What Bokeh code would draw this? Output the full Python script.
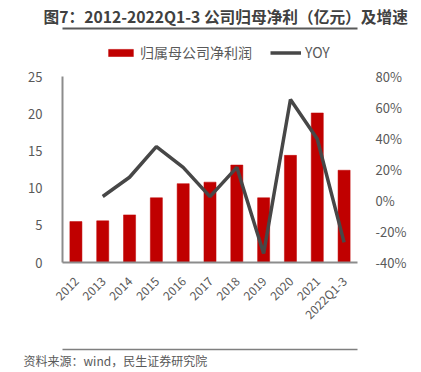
import math
from bokeh.plotting import figure
from bokeh.models import (Range1d, LinearAxis, FixedTicker, PrintfTickFormatter,
                          Legend, LegendItem, ColumnDataSource, Title)
from bokeh.embed import file_html
from bokeh.resources import INLINE

categories = ["2012", "2013", "2014", "2015", "2016", "2017", "2018", "2019", "2020", "2021", "2022Q1-3"]
profit = [5.5, 5.6, 6.4, 8.7, 10.6, 10.8, 13.1, 8.7, 14.4, 20.1, 12.4]
yoy = [float("nan"), 2.6, 15.0, 34.8, 21.4, 2.5, 21.4, -34.2, 65.2, 39.7, -27.0]
left_ticks = [0, 5, 10, 15, 20, 25]
right_ticks = [-40, -20, 0, 20, 40, 60, 80]
title_text = "图7：2012-2022Q1-3 公司归母净利（亿元）及增速"
source_text = "资料来源：wind，民生证券研究院"
legend_labels = ["归属母公司净利润", "YOY"]

FONT = "Noto Sans CJK SC"
W, H = 421, 372
FL, FR, FT, FB = 62, 357, 28, 262   # frame edges in page pixels
frame_h = FB - FT

px_per_unit = 186 / 25.0
left_top = frame_h / px_per_unit
px_per_pct = 186 / 120.0
right_top = -40 + frame_h / px_per_pct

xpos = list(range(len(categories)))
src = ColumnDataSource(dict(x=xpos, cat=categories, profit=profit, yoy=yoy))

p = figure(width=W, height=H, title=None,
           x_range=Range1d(-0.5, len(categories) - 0.5),
           y_range=Range1d(0, left_top), toolbar_location=None, output_backend="svg",
           min_border_left=FL, min_border_right=W - FR, min_border_top=FT,
           min_border_bottom=H - FB, outline_line_color=None)
p.grid.visible = False
p.extra_y_ranges = {"y2": Range1d(-40, right_top)}
p.extra_x_ranges = {"px": Range1d(FL, FR)}

bars = p.vbar(x="x", top="profit", width=0.45, source=src, fill_color="#C00000",
              line_color="#C00000", line_width=0.5)
ln = p.line(x="x", y="yoy", source=src, y_range_name="y2", line_color="#474747",
            line_width=3.5)

ax = p.yaxis[0]
ax.bounds = (0, 25)
ax.ticker = FixedTicker(ticks=left_ticks)
ax.major_tick_line_color = None
ax.minor_tick_line_color = None
ax.axis_line_color = "#8c8c8c"
ax.axis_line_width = 2
ax.major_label_standoff = 14
ax.major_label_text_font = FONT
ax.major_label_text_font_size = "13px"
ax.major_label_text_color = "#595959"

rax = LinearAxis(y_range_name="y2", bounds=(-40, 80), ticker=FixedTicker(ticks=right_ticks),
                 formatter=PrintfTickFormatter(format="%d%%"))
rax.major_tick_line_color = None
rax.minor_tick_line_color = None
rax.axis_line_color = None
rax.major_label_standoff = 12
rax.major_label_text_font = FONT
rax.major_label_text_font_size = "13px"
rax.major_label_text_color = "#595959"
p.add_layout(rax, "right")

xa = p.xaxis[0]
xa.ticker = FixedTicker(ticks=xpos)
xa.major_label_overrides = {i: c for i, c in zip(xpos, categories)}
xa.major_tick_line_color = None
xa.minor_tick_line_color = None
xa.axis_line_color = "#8c8c8c"
xa.axis_line_width = 2
xa.major_label_orientation = math.pi / 4
xa.major_label_standoff = 10
xa.major_label_text_font = FONT
xa.major_label_text_font_size = "12px"
xa.major_label_text_color = "#595959"
xa.axis_label = "\u00a0"
xa.axis_label_text_font_size = "12px"
xa.axis_label_standoff = 1

# rule lines under the title and above the source note
def rule_axis(color, width):
    a = LinearAxis(x_range_name="px", bounds=(14, W), ticker=FixedTicker(ticks=[]))
    a.major_tick_line_color = None
    a.minor_tick_line_color = None
    a.axis_line_color = color
    a.axis_line_width = width
    return a

# above: rule first (next to the frame), then the title outside it
p.add_layout(rule_axis("#595959", 1.8), "above")
p.add_layout(Title(text=title_text, align="left", offset=-19, text_font=FONT,
                   text_font_size="15.7px", text_font_style="bold", text_color="#404040",
                   vertical_align="bottom", standoff=2), "above")

# below: x axis, then rule, then the source note
p.add_layout(rule_axis("#7f7f7f", 1.5), "below")
p.add_layout(Title(text=source_text, align="left", offset=23 - FL, text_font=FONT,
                   text_font_size="12px", text_font_style="normal", text_color="#595959",
                   vertical_align="top", standoff=4), "below")

legend = Legend(items=[LegendItem(label=legend_labels[0], renderers=[bars]),
                       LegendItem(label=legend_labels[1], renderers=[ln])],
                orientation="horizontal", location=(105 - FL, FB - 62),
                border_line_color=None, background_fill_alpha=0, padding=0, margin=0,
                glyph_width=31, glyph_height=9, label_standoff=4, spacing=18,
                label_text_font=FONT, label_text_font_size="14px", label_text_color="#595959")
p.add_layout(legend)

open("out.html", "w").write(file_html(p, INLINE))
